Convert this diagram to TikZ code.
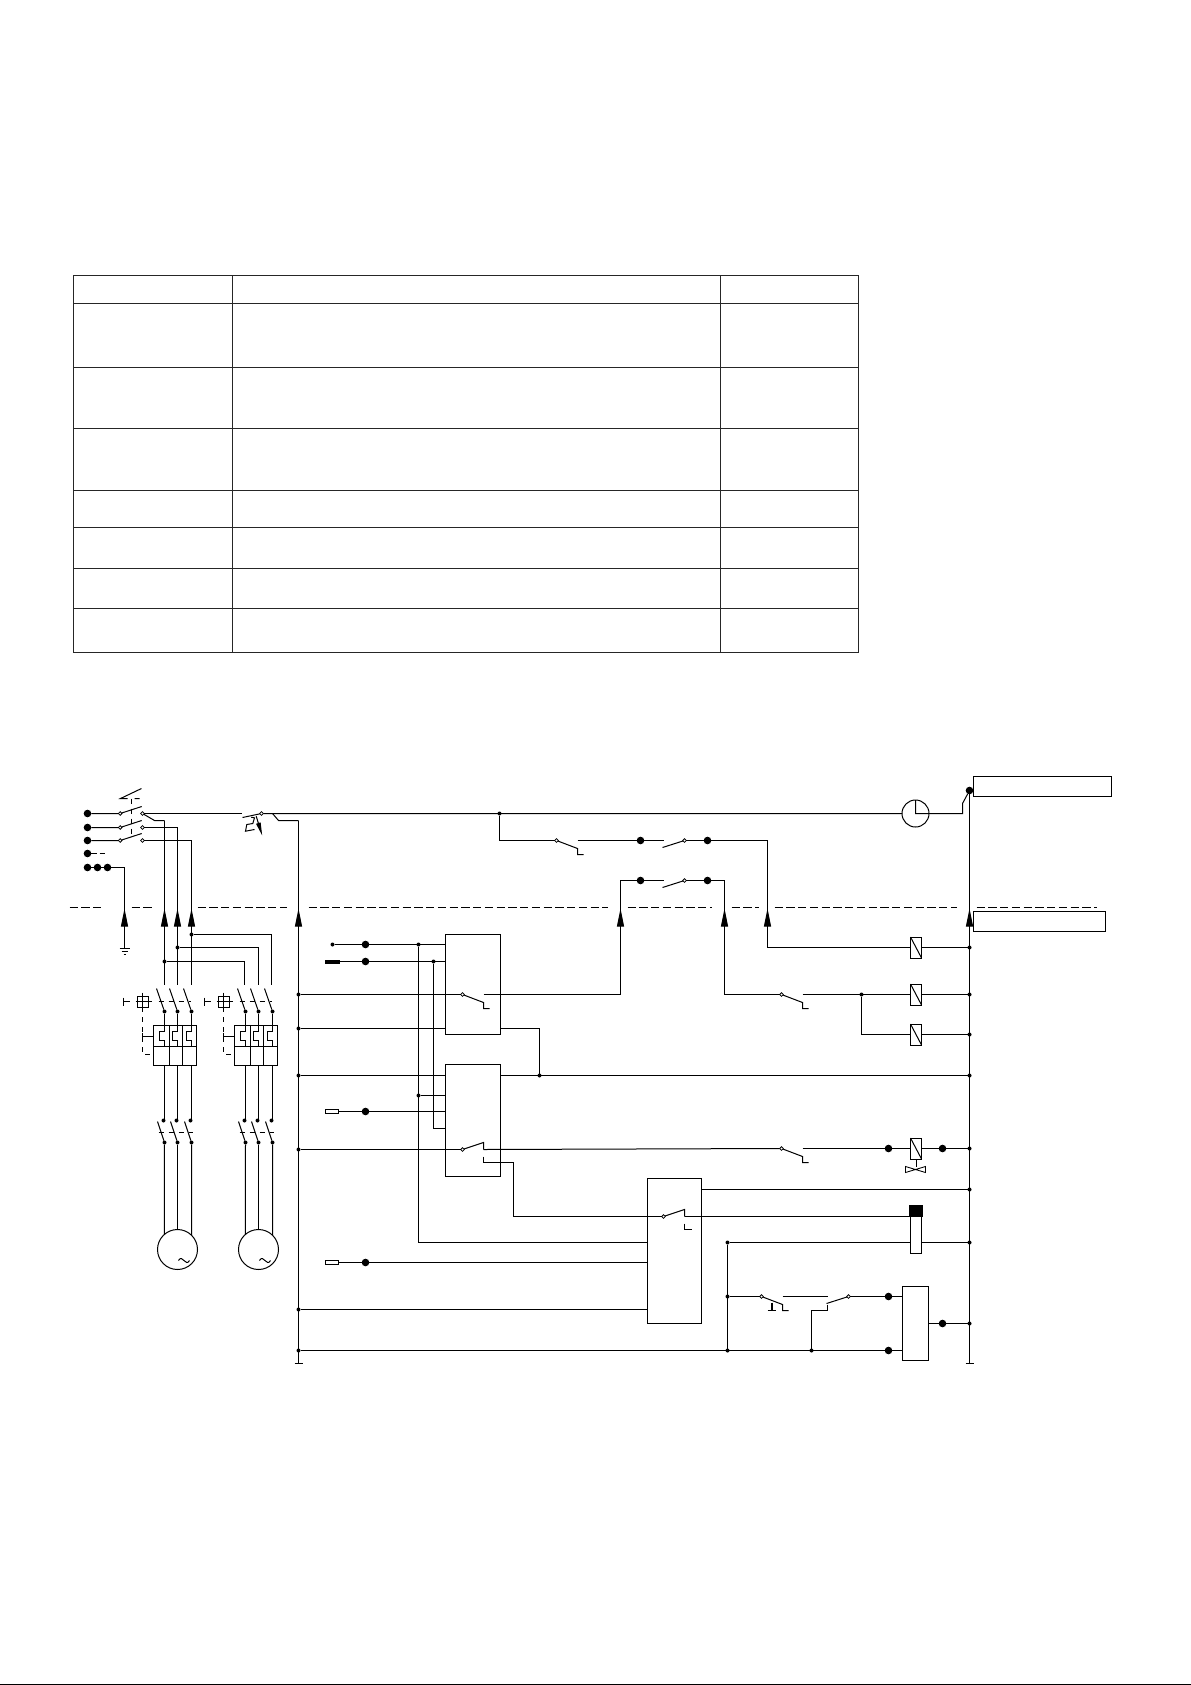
\documentclass[tikz,border=0pt]{standalone}
\usepackage{amsmath,amssymb}
\usetikzlibrary{calc}
\usetikzlibrary{arrows.meta}
\def\u{0.4pt}
\tikzset{
    wire/.style={line width=0.4pt},
    cutline/.style={line width=0.4pt,dash pattern=on 3.3pt off 1.4pt},
    linkline/.style={line width=0.4pt,dash pattern=on 2pt off 2pt},
    bigdot/.style={circle,fill=black,inner sep=0pt,outer sep=0pt,minimum size=7.6*\u},
    nd/.style={circle,fill=black,inner sep=0pt,outer sep=0pt,minimum size=4*\u},
    contact/.style={circle,draw,fill=white,line width=0.3pt,inner sep=0pt,outer sep=0pt,minimum size=3.6*\u},
    boxed/.style={draw,line width=0.4pt,fill=white,inner sep=0pt,outer sep=0pt,anchor=north west},
    coil/.style={draw,line width=0.4pt,fill=white,inner sep=0pt,outer sep=0pt,minimum width=11*\u,minimum height=21*\u},
    motor/.style={circle,draw,line width=0.4pt,inner sep=0pt,outer sep=0pt,minimum size=40*\u}
}
\begin{document}
\begin{tikzpicture}[x=0.4pt,y=-0.4pt,>={Triangle[length=7.2pt,width=2.8pt]}]
    \useasboundingbox (0.5,0.5) rectangle (1191.5,1685.5);
    \draw[line width=0.4pt] (0.5,1685) -- (1191.5,1685);
    % table
    \draw[line width=0.45pt,color=black!85] (74,276) rectangle (859,653);
    \foreach \y in {304,368,429,491,528,569,609}
    {
        \draw[line width=0.45pt,color=black!85] (74,\y) -- (859,\y);
    }
    \foreach \x in {233,721}
    {
        \draw[line width=0.45pt,color=black!85] (\x,276) -- (\x,653);
    }
    % cut line
    \foreach \a/\b in {70/102,132/152,198/287,309/608,628/712,732/759,775/957,977/1097}
    {
        \draw[cutline] (\a,908) -- (\b,908);
    }
    % buses
    \coordinate (lbustop) at (299,821);
    \coordinate (lbusend) at (299,1364);
    \coordinate (rbusend) at (970,1364);
    \node[bigdot] (topdot) at (970,791) {};
    \draw[wire] (lbustop) -- (lbusend) +(-4,0) -- +(4,0);
    \draw[wire] (topdot) -- (rbusend) +(-4,0) -- +(4,0);
    \foreach \y in {995,1029,1076,1150,1310,1351}
    {
        \node[nd] (lbus\y) at (299,\y) {};
    }
    \foreach \y in {948,995,1035,1076,1149,1190,1243,1324}
    {
        \node[nd] (rbus\y) at (970,\y) {};
    }
    % boxes
    \node[boxed,minimum width=55*\u,minimum height=100*\u] (relaya) at (446,935) {};
    \node[boxed,minimum width=55*\u,minimum height=112*\u] (relayb) at (446,1065) {};
    \node[boxed,minimum width=54*\u,minimum height=145*\u] (relayc) at (648,1179) {};
    \node[boxed,minimum width=26*\u,minimum height=74*\u] (relayd) at (903,1287) {};
    \node[boxed,minimum width=138*\u,minimum height=20*\u] (labela) at (974,777) {};
    \node[boxed,minimum width=132*\u,minimum height=20*\u] (labelb) at (974,912) {};
    \node[boxed,minimum width=11*\u,minimum height=37*\u] (solw) at (911,1217) {};
    \node[boxed,fill=black,minimum width=13*\u,minimum height=11*\u] (solb) at (910,1206) {};
    \foreach \n/\y in {coila/948,coilb/995,coilc/1035,coild/1149}
    {
        \node[coil] (\n) at (916.5,\y) {};
        \draw[wire] (\n.north west) -- (\n.south east);
    }
    % contacts opening to the right
    \foreach \n/\x/\y in {kta/557/841,kaa/463/995,kcc/782/995,kdd/782/1149,kpb/762/1297}
    {
        \node[contact] (\n) at (\x,\y) {};
        \coordinate (\n r) at (\x+21,\y);
        \draw[wire] (\n) -- ++(21,8) -- ++(0,6) -- ++(6,0);
    }
    % contacts closing upward
    \foreach \n/\x/\y in {kbb/463/1150,kcx/664/1217}
    {
        \node[contact] (\n) at (\x,\y) {};
        \coordinate (\n r) at (\x+21,\y);
        \coordinate (\n h) at (\x+21,\y+7);
        \draw[wire] (\n) -- ++(21,-7) -- (\n r);
    }
    % contacts seen from the right
    \foreach \n/\x/\y in {la/685/841,lb/685/881,lc/849/1297}
    {
        \node[contact] (\n) at (\x,\y) {};
        \coordinate (\n l) at (\x-21,\y);
        \draw[wire] (\n) -- ++(-22,7);
    }
    % incoming switch
    \foreach \n/\y in {1/814,2/828,3/841}
    {
        \node[bigdot] (in\n) at (88,\y) {};
        \node[contact] (pl\n) at (120.7,\y) {};
        \node[contact] (pr\n) at (143,\y) {};
        \draw[wire] (in\n) -- (pl\n) -- ++(21.5,-7);
    }
    \node[bigdot] (in4) at (88,854) {};
    \coordinate (in4a) at (97,854);
    \coordinate (in4b) at (100,854);
    \coordinate (in4c) at (105,854);
    \draw[wire] (in4) -- (in4a) (in4b) -- (in4c);
    \foreach \n/\x in {a/88,b/98,c/108}
    {
        \node[bigdot] (pe\n) at (\x,868) {};
    }
    \coordinate (gnd) at (125,949);
    \draw[wire] (pea) -- (pec) -| (gnd);
    \draw[wire] (gnd) +(-5,0) -- +(5,0) (gnd) ++(-3,3) -- ++(6,0) (gnd) ++(-1,5.5) -- ++(2,0);
    \draw[linkline] (132,799) -- (132,838);
    \draw[wire] (142,789) -- (121,799) -- (128,799) (135,799) -- (140,799);
    % power feeders
    \coordinate (fa) at (165,821);
    \coordinate (fb) at (178,828);
    \coordinate (fc) at (192,841);
    \draw[wire] (pr1) -- (155,821) -- (fa);
    \draw[wire] (pr2) -- (fb);
    \draw[wire] (pr3) -- (fc);
    \foreach \n/\x/\xb/\y in {fa/165/245/962,fb/178/259/948,fc/192/272/935}
    {
        \node[nd] (\n j) at (\x,\y) {};
        \draw[wire] (\n) -- (\x,985);
        \draw[wire] (\n j) -- (\xb,\y) -- (\xb,985);
    }
    % motor branches
    \node[motor] (motora) at (178,1250) {};
    \node[motor] (motorb) at (259,1250) {};
    \foreach \m/\x/\s in {a/165/154,b/246/235}
    {
        \foreach \i/\dx/\an in {1/0/131,2/13/90,3/27/45}
        {
            \node[nd] (qt\m\i) at (\x+\dx,1012) {};
            \node[nd] (qh\m\i) at (\x+\dx-1,1121) {};
            \node[nd] (qb\m\i) at (\x+\dx,1143) {};
            \draw[wire] (qt\m\i) -- ++(-8,-23);
            \draw[wire] (qb\m\i) -- ++(-7,-21);
            \draw[wire] (qb\m\i) -- (motor\m.\an);
            % thermal element
            \draw[wire] (qt\m\i) -- ++(0,20) -- ++(-5,0) -- ++(0,9) -- ++(5,0) -- ++(0,6);
            \draw[wire] (\x+\dx,1066) -- (\x+\dx,1121);
        }
        % overload block
        \draw[wire] (\s,1026) rectangle (\s+43,1066) (\s,1047) -- (\s+43,1047);
        \draw[wire] (\s+16,1026) -- (\s+16,1066) (\s+29,1026) -- (\s+29,1066);
        \draw[linkline] (\x-6,1002) -- (\x+26,1002);
        \draw[linkline] (\x-6,1133) -- (\x+28,1133);
        % handle
        \node[draw,line width=0.4pt,inner sep=0pt,outer sep=0pt,minimum size=11*\u] (hd\m) at (\s-11,1002) {};
        \draw[wire] (hd\m.center) +(-7,0) -- +(9,0) (hd\m.center) +(0,-9) -- +(0,8);
        \draw[wire] (hd\m.center) ++(-19,-4) -- ++(0,8) (hd\m.center) ++(-19,0) -- ++(6,0);
        \draw[linkline] (hd\m.south) -- (\s-11,1055) -- (\s,1055);
        \draw[wire] (\s-11,1037) -- (\s,1037) (\s-11,1033) -- (\s-11,1040);
    }
    \draw[wire] (179,1261) .. controls (183,1254) and (186,1268) .. (190,1261);
    \draw[wire] (260,1261) .. controls (264,1254) and (267,1268) .. (271,1261);
    % thermal release
    \node[contact] (qa) at (262,814) {};
    \node[nd] (nda) at (500,814) {};
    \node[circle,draw,line width=0.4pt,inner sep=0pt,outer sep=0pt,minimum size=27*\u] (clk) at (916,814) {};
    \coordinate (qal) at (242,814);
    \coordinate (qbr) at (273,814);
    \coordinate (clkb) at (963,814);
    \draw[wire] (pr1) -- (qal);
    \draw[wire] (243,818) -- (qa) -- (clk);
    \draw[wire] (qbr) -- (279,821) -- (lbustop);
    \draw[wire] (clk.north) -- (clk.center) -- (clk.east) -- (clkb) -- (963,804) -- (topdot);
    \draw[wire] (251.7,817.7) -- (255,818.3) -- (253.3,824) -- (247.3,825) -- (246,831.7) -- (255,830);
    \draw[wire,-{Triangle[length=5.2pt,width=1.8pt]}] (256.7,816.7) -- (262.7,836);
    % delay branch
    \node[bigdot] (dta) at (641,841) {};
    \node[bigdot] (dtb) at (708,841) {};
    \node[bigdot] (dra) at (641,881) {};
    \node[bigdot] (drb) at (708,881) {};
    \coordinate (cna) at (768,841);
    \coordinate (cnb) at (621,995);
    \coordinate (cnc) at (725,881);
    \draw[wire] (nda) |- (kta);
    \draw[wire] (ktar) -- (dta) -- (lal);
    \draw[wire] (la) -- (dtb) -- (cna) |- (coila);
    \draw[wire] (kaar) -- (cnb) |- (dra) -- (lbl);
    \draw[wire] (lb) -- (drb) -- (cnc) |- (kcc);
    \node[nd] (ndb) at (862,995) {};
    \draw[wire] (kccr) -- (coilb);
    \draw[wire] (ndb) |- (coilc);
    \foreach \y/\n in {948/coila,995/coilb,1035/coilc}
    {
        \draw[wire] (\n) -- (rbus\y);
    }
    % inputs of the relays
    \node[nd] (sa) at (333,945) {};
    \node[bigdot] (dsa) at (366,945) {};
    \node[nd] (ndc) at (419,945) {};
    \node[nd] (ndd) at (419,1096) {};
    \node[fill=black,inner sep=0pt,outer sep=0pt,minimum width=15*\u,minimum height=4*\u] (sb) at (332.5,962) {};
    \node[bigdot] (dsb) at (366,962) {};
    \node[nd] (nde) at (434,962) {};
    \foreach \n/\y in {sc/1112,sd/1263}
    {
        \node[draw,fill=white,line width=0.35pt,inner sep=0pt,outer sep=0pt,minimum width=13*\u,minimum height=3.5*\u] (\n) at (332.5,\y) {};
        \node[bigdot] (d\n) at (366,\y) {};
    }
    \coordinate (cnd) at (419,1243);
    \coordinate (cne) at (434,1129);
    \draw[wire] (sa) -- (sa -| relaya.west);
    \draw[wire] (sb) -- (sb -| relaya.west);
    \draw[wire] (sc) -- (sc -| relayb.west);
    \draw[wire] (sd) -- (sd -| relayc.west);
    \draw[wire] (ndc) -- (cnd) -- (cnd -| relayc.west);
    \draw[wire] (ndd) -- (ndd -| relayb.west);
    \draw[wire] (nde) -- (cne) -- (cne -| relayb.west);
    \draw[wire] (lbus995) -- (kaa);
    \draw[wire] (lbus1029) -- (lbus1029 -| relaya.west);
    \draw[wire] (lbus1076) -- (lbus1076 -| relayb.west);
    \draw[wire] (lbus1150) -- (kbb);
    \draw[wire] (lbus1310) -- (lbus1310 -| relayc.west);
    \node[nd] (ndf) at (540,1076) {};
    \draw[wire] (ndf) |- (lbus1029 -| relaya.east);
    \draw[wire] (rbus1076 -| relayb.east) -- (rbus1076);
    % outgoing lines
    \node[bigdot] (ka) at (889,1149) {};
    \node[bigdot] (kb) at (943,1149) {};
    \draw[wire] (kbbr) -- (kdd);
    \draw[wire] (kddr) -- (coild) -- (rbus1149);
    \coordinate (kcj) at (514,1163);
    \coordinate (kck) at (514,1217);
    \draw[wire] (kbbh) -- (484,1163) -- (kcj) -- (kck) -- (kcx);
    \draw[wire] (kcxh) -- ++(0,6) -- ++(7,0);
    \draw[wire] (rbus1190 -| relayc.east) -- (rbus1190);
    \draw[wire] (kcxr) -- (solb.south west);
    % valve
    \draw[wire] (916.5,1160) -- (916.5,1167);
    \draw[line width=0.35pt] (906,1167) -- (926,1173) -- (926,1167) -- (906,1173) -- cycle;
    % lower right
    \node[nd] (ndg) at (728,1243) {};
    \node[nd] (ndh) at (728,1297) {};
    \node[nd] (ndi) at (728,1351) {};
    \node[nd] (ndj) at (812,1351) {};
    \node[bigdot] (dka) at (889,1297) {};
    \node[bigdot] (dkb) at (889,1351) {};
    \node[bigdot] (dkc) at (943,1324) {};
    \coordinate (lcb) at (828,1305);
    \draw[wire] (ndg) -- (ndg -| solw.west);
    \draw[wire] (ndg -| solw.east) -- (rbus1243);
    \draw[wire] (ndg) -- (ndi);
    \draw[wire] (ndh) -- (kpb);
    \draw[wire] (kpbr) -- (lcl);
    \draw[wire] (lc) -- (dka) -- (dka -| relayd.west);
    \draw[wire] (lcb) -- (828,1311) -- (812,1311) -- (ndj);
    \draw[wire] (lbus1351) -- (dkb -| relayd.west);
    \draw[wire] (rbus1324 -| relayd.east) -- (rbus1324);
    \draw[line width=0.8pt] (772,1303) -- (772,1311);
    \draw[wire] (768,1311) -- (776,1311);
    % arrows on the cut line
    \foreach \x in {125,165,178,192,299,621,725,768,970}
    {
        \draw[wire,->] (\x,928) -- (\x,909);
    }
\end{tikzpicture}
\end{document}
